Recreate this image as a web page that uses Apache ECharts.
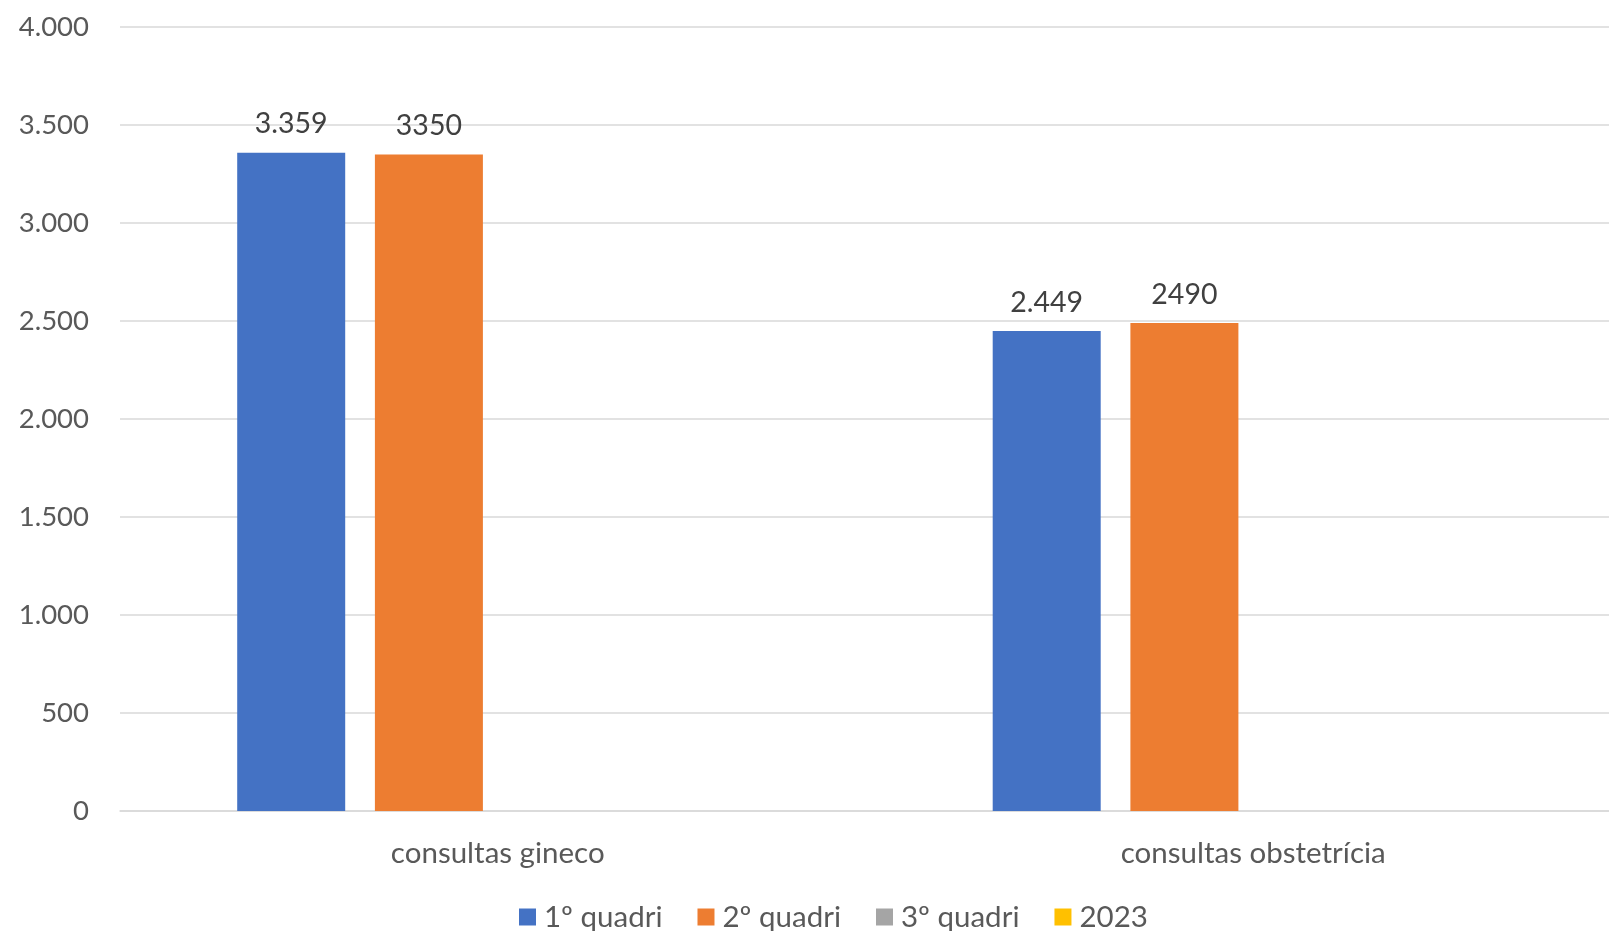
<!DOCTYPE html>
<html>
<head>
<meta charset="utf-8">
<script src="https://cdn.jsdelivr.net/npm/echarts@6/dist/echarts.min.js"></script>
<style>
html,body{margin:0;padding:0;background:#fff;overflow:hidden;}
#chart{width:1609px;height:931px;}
</style>
</head>
<body>
<div id="chart"></div>
<script>
var categories = ['consultas gineco', 'consultas obstetrícia'];
var seriesNames = ['1º quadri', '2º quadri', '3º quadri', '2023'];
var q1 = [3359, 2449];
var q2 = [3350, 2490];
var q3 = [null, null];
var y2023 = [null, null];
var colors = ['#4472C4', '#ED7D31', '#A5A5A5', '#FFC000'];
var yTicks = { min: 0, max: 4000, interval: 500 };

function thousands(v) {
  return String(v).replace(/\B(?=(\d{3})+(?!\d))/g, '.');
}

var FONT = 'Lato';
var chart = echarts.init(document.getElementById('chart'));

function mkSeries(name, data, color, fmt) {
  return {
    name: name,
    type: 'bar',
    data: data,
    barWidth: 108,
    barGap: '27.5%',
    itemStyle: { color: color },
    label: {
      show: true,
      position: 'top',
      distance: 14,
      color: '#404040',
      fontFamily: FONT,
      fontSize: 28.5,
      formatter: fmt
    },
    emphasis: { disabled: true }
  };
}

chart.setOption({
  animation: false,
  color: colors,
  grid: { left: 120, right: -22, top: 27, bottom: 120, containLabel: false, outerBoundsMode: 'none' },
  legend: {
    left: 514,
    top: 897,
    itemWidth: 17,
    itemHeight: 17,
    itemGap: 35,
    icon: 'rect',
    textStyle: { color: '#595959', fontFamily: FONT, fontSize: 29.5, padding: [0, 0, 0, 3] },
    data: seriesNames
  },
  xAxis: {
    type: 'category',
    data: categories,
    axisLine: { lineStyle: { color: '#d9d9d9', width: 1.5 } },
    axisTick: { show: false },
    axisLabel: { color: '#595959', fontFamily: FONT, fontSize: 29.5, margin: 27 }
  },
  yAxis: {
    type: 'value',
    min: yTicks.min,
    max: yTicks.max,
    interval: yTicks.interval,
    axisLine: { show: false },
    axisTick: { show: false },
    splitLine: { lineStyle: { color: '#d9d9d9', width: 1.5 } },
    axisLabel: {
      color: '#595959', fontFamily: FONT, fontSize: 27.5, margin: 31,
      formatter: function (v) { return thousands(v); }
    }
  },
  series: [
    mkSeries(seriesNames[0], q1, colors[0], function (p) { return thousands(p.value); }),
    mkSeries(seriesNames[1], q2, colors[1], function (p) { return String(p.value); }),
    mkSeries(seriesNames[2], q3, colors[2], function (p) { return p.value == null ? '' : String(p.value); }),
    mkSeries(seriesNames[3], y2023, colors[3], function (p) { return p.value == null ? '' : String(p.value); })
  ]
});
</script>
</body>
</html>
